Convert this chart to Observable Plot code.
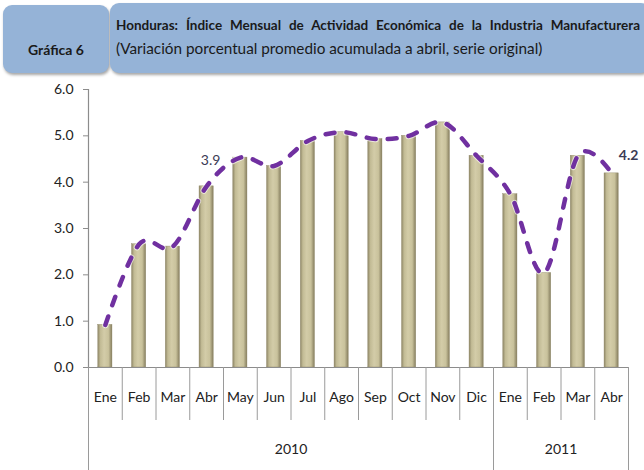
<!DOCTYPE html>
<html>
<head>
<meta charset="utf-8">
<script src="https://cdn.jsdelivr.net/npm/d3@7"></script>
<script src="https://cdn.jsdelivr.net/npm/@observablehq/plot@0.6"></script>
<style>
  html, body { margin: 0; padding: 0; background: #fff; }
  #wrap { position: relative; width: 644px; height: 470px; overflow: hidden; font-family: Lato, "Open Sans", sans-serif; }
  .box { position: absolute; background: #95b3d7; border-radius: 9px; box-shadow: 1px 2px 3px rgba(0,0,0,0.35); z-index: 2; }
  #boxL { left: 3px; top: 5px; width: 106px; height: 68px; }
  #boxR { left: 110px; top: 3px; width: 540px; height: 70px; }
  #gtitle { position: absolute; left: 0; width: 106px; top: 36px; text-align: center; font-weight: bold; font-size: 14px; color: #1a1a1a; }
  #title { position: absolute; left: 6px; top: 14px; width: 524px; font-weight: bold; font-size: 13.5px; color: #1a1a1a; text-align: justify; text-align-last: justify; white-space: nowrap; }
  #subtitle { position: absolute; left: 6px; top: 36px; font-size: 15.3px; color: #1a1a1a; white-space: nowrap; }
  #chart { position: absolute; left: 0; top: 0; z-index: 1; }
</style>
</head>
<body>
<div id="wrap">
  <div class="box" id="boxL"><div id="gtitle">Gráfica 6</div></div>
  <div class="box" id="boxR">
    <div id="title">Honduras: Índice Mensual de Actividad Económica de la Industria Manufacturera</div>
    <div id="subtitle">(Variación porcentual promedio acumulada a abril, serie original)</div>
  </div>
  <div id="chart"></div>
</div>
<script>
// Data
const months = ["Ene","Feb","Mar","Abr","May","Jun","Jul","Ago","Sep","Oct","Nov","Dic","Ene","Feb","Mar","Abr"];
const values = [0.92, 2.66, 2.61, 3.91, 4.53, 4.35, 4.89, 5.08, 4.93, 5.00, 5.29, 4.57, 3.74, 2.04, 4.57, 4.19];
const years = ["2010", "2011"];
const yearMonthCounts = [12, 4];
const yTicks = [0, 1, 2, 3, 4, 5, 6];

const data = months.map((m, i) => ({i, month: m, value: values[i]}));

// year boundaries and centers (in month-index units)
const yearStarts = [];
let acc = 0;
yearMonthCounts.forEach(c => { yearStarts.push(acc); acc += c; });
const yearBounds = [...yearStarts, acc];
const yearCenters = yearStarts.map((s, k) => s + yearMonthCounts[k] / 2);
const monthBounds = d3.range(1, months.length).filter(b => !yearBounds.includes(b));
const monthCenters = months.map((m, i) => i + 0.5);

const font = "Lato, 'Open Sans', sans-serif";
const labelStyle = {x: d => d.i + 0.5, y: "value", text: d => d.value.toFixed(1), fill: "#3b3b55", fontSize: 14, fontWeight: "bold"};

const chart = Plot.plot({
  width: 644,
  height: 470,
  marginTop: 89,
  marginBottom: 103,
  marginLeft: 88,
  marginRight: 16,
  style: {fontFamily: font, fontSize: "14px", color: "#222", background: "transparent"},
  x: {type: "linear", domain: [0, months.length]},
  y: {domain: [0, 6]},
  marks: [
    Plot.rectY(data, {x1: d => d.i + 0.29, x2: d => d.i + 0.71, y: "value", fill: "url(#barGrad)", stroke: "#8f8868", strokeWidth: 0.4}),
    Plot.ruleY([0], {stroke: "#8c8c8c", strokeWidth: 1.2}),
    Plot.ruleX([0], {stroke: "#8c8c8c", strokeWidth: 1.2}),
    Plot.axisY({ticks: yTicks, tickFormat: d => d.toFixed(1), tickSize: 5, tickPadding: 10, stroke: "#8c8c8c", label: null, fontSize: 14}),
    // month separators
    Plot.axisX({ticks: monthBounds, tickSize: 53, tickFormat: () => "", stroke: "#9a9a9a", label: null}),
    // year separators
    Plot.axisX({ticks: yearBounds, tickSize: 110, tickFormat: () => "", stroke: "#9a9a9a", label: null}),
    // month labels
    Plot.axisX({ticks: monthCenters, tickSize: 0, tickPadding: 25, tickFormat: d => months[Math.floor(d)], label: null, fontSize: 14}),
    // year labels
    Plot.axisX({ticks: yearCenters, tickSize: 0, tickPadding: 77, tickFormat: d => years[yearCenters.indexOf(d)], label: null, fontSize: 14}),
    Plot.line(data, {x: d => d.i + 0.5, y: "value", curve: "cardinal", stroke: "#ffffff", strokeOpacity: 0.6, strokeWidth: 6.5, strokeDasharray: "9,12", strokeLinecap: "round"}),
    Plot.line(data, {x: d => d.i + 0.5, y: "value", curve: "cardinal", stroke: "#7030a0", strokeWidth: 4.5, strokeDasharray: "9,12", strokeLinecap: "round"}),
    Plot.text(data.filter(d => d.i === 3), {...labelStyle, dx: 4, dy: -26, fontWeight: "normal"}),
    Plot.text(data.filter(d => d.i === months.length - 1), {...labelStyle, dx: 17, dy: -18})
  ]
});

// gradient for the cylinder-like bars
const svg = d3.select(chart);
const defs = svg.insert("defs", ":first-child");
const g = defs.append("linearGradient").attr("id", "barGrad").attr("x1", "0").attr("x2", "1").attr("y1", "0").attr("y2", "0");
[["0%", "#8e8666"], ["18%", "#c2bb95"], ["45%", "#d3cca8"], ["75%", "#c9c29c"], ["100%", "#857d5e"]]
  .forEach(([o, c]) => g.append("stop").attr("offset", o).attr("stop-color", c));

document.getElementById("chart").appendChild(chart);
</script>
</body>
</html>
